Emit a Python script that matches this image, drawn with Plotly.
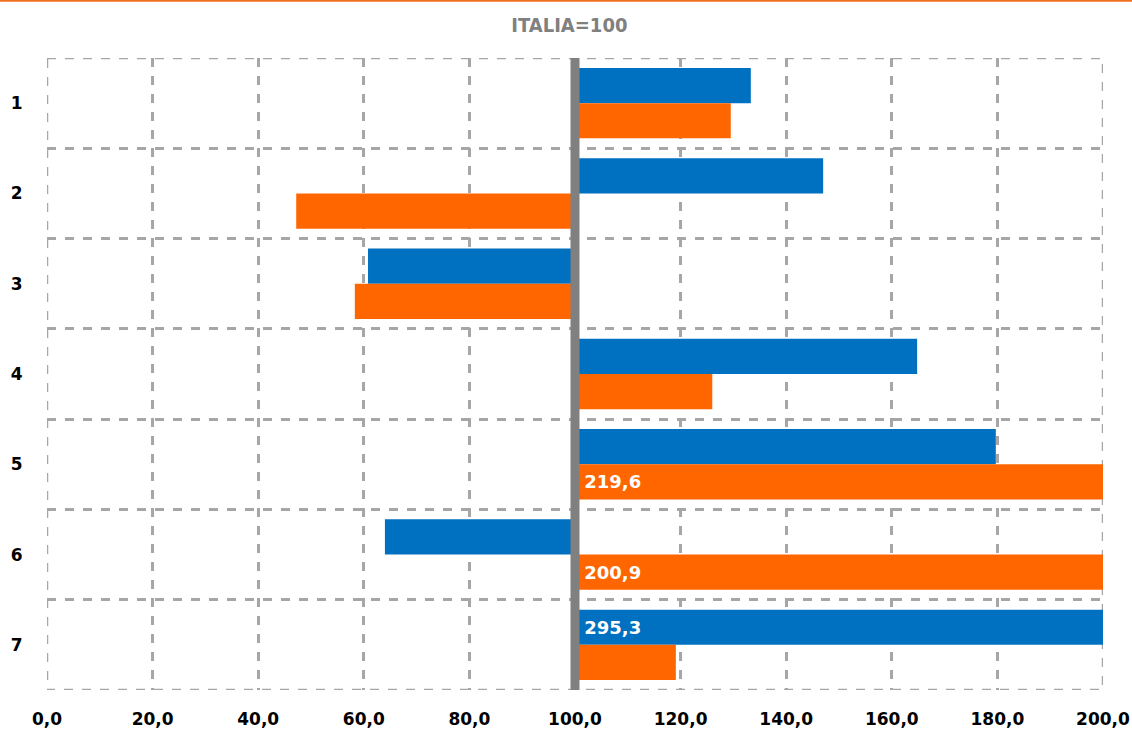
import plotly.graph_objects as go

categories = [1, 2, 3, 4, 5, 6, 7]
category_labels = ["1", "2", "3", "4", "5", "6", "7"]
blue_values = [133.3, 147.0, 60.8, 164.8, 179.7, 64.0, 295.3]
orange_values = [129.5, 47.2, 58.3, 126.0, 219.6, 200.9, 119.1]
x_ticks = [0, 20, 40, 60, 80, 100, 120, 140, 160, 180, 200]
x_tick_labels = ["0,0", "20,0", "40,0", "60,0", "80,0", "100,0", "120,0", "140,0", "160,0", "180,0", "200,0"]
base_value = 100
x_max = 200
title_text = "ITALIA=100"

BLUE = "#0070C0"
ORANGE = "#FF6600"
GRID = "#A6A6A6"
FONT = "DejaVu Sans"


def over_labels(vals):
    return ["\u00a0" + f"{v:.1f}".replace(".", ",") if v > x_max else "" for v in vals]


fig = go.Figure()
for vals, color in [(blue_values, BLUE), (orange_values, ORANGE)]:
    fig.add_trace(go.Bar(
        y=categories,
        x=[v - base_value for v in vals],
        base=base_value,
        orientation="h",
        marker=dict(color=color, line=dict(width=0)),
        text=over_labels(vals),
        textposition="inside",
        insidetextanchor="start",
        textfont=dict(color="white", size=18, family=FONT, weight="bold"),
        cliponaxis=True,
        hoverinfo="skip",
    ))

# dashed frame around the plot area (edge gridlines)
fig.add_shape(type="rect", x0=0, x1=x_max, y0=0.5, y1=7.5, xref="x", yref="y",
              line=dict(color=GRID, width=2.5, dash="dash"), layer="below")

fig.add_shape(type="line", x0=base_value, x1=base_value, y0=0.5, y1=7.5,
              xref="x", yref="y", line=dict(color="#808080", width=9), layer="above")

# top orange rule
fig.add_shape(type="line", x0=-0.05, x1=1.05, y0=1.0905, y1=1.0905,
              xref="paper", yref="paper", line=dict(color="#F07020", width=2))

fig.update_layout(
    width=1132, height=731,
    margin=dict(l=47, r=29, t=58, b=41, autoexpand=False),
    paper_bgcolor="white", plot_bgcolor="white",
    barmode="group", bargap=0.22, bargroupgap=0,
    showlegend=False,
    title=dict(text=title_text, x=0.503, xanchor="center", y=0.966, yanchor="middle",
               font=dict(family="DejaVu Sans Condensed", size=20, color="#808080", weight="bold")),
    font=dict(family=FONT, color="black"),
)

fig.update_xaxes(
    range=[0, x_max], tickvals=x_ticks, ticktext=x_tick_labels,
    showgrid=True, gridcolor=GRID, gridwidth=2.5, griddash="dash",
    zeroline=False, showline=False, automargin=False,
    ticks="outside", ticklen=14, tickcolor="rgba(0,0,0,0)",
    tickfont=dict(size=17, family=FONT, weight="bold", color="black"),
)
fig.update_yaxes(
    range=[7.5, 0.5], tickvals=categories, ticktext=category_labels,
    showgrid=False, zeroline=False, showline=False, automargin=False,
    ticks="outside", ticklen=20, tickcolor="rgba(0,0,0,0)",
    tickfont=dict(size=17, family=FONT, weight="bold", color="black"),
    minor=dict(tickvals=[0.5, 1.5, 2.5, 3.5, 4.5, 5.5, 6.5, 7.5], showgrid=True,
               gridcolor=GRID, gridwidth=2.5, griddash="dash", ticks=""),
)

fig.write_html("out.html", config={"displayModeBar": False},
               post_script="document.body.style.margin='0';")
